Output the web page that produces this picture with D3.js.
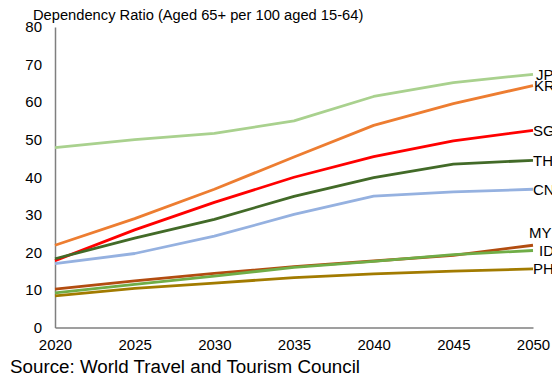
<!DOCTYPE html>
<html>
<head>
<meta charset="utf-8">
<script src="https://cdn.jsdelivr.net/npm/d3@7"></script>
<style>
  html, body { margin: 0; padding: 0; background: #fff; }
  svg { display: block; font-family: "Liberation Sans", Arial, sans-serif; }
</style>
</head>
<body>
<svg id="chart" width="552" height="378"></svg>
<script>
// Old-age dependency ratio projections, 2020-2050
const years = [2020, 2025, 2030, 2035, 2040, 2045, 2050];
const countries = ["JP", "KR", "SG", "TH", "CN", "MY", "ID", "PH"];
const jp = [47.9, 50.0, 51.7, 55.0, 61.5, 65.2, 67.4];
const kr = [21.9, 29.0, 36.8, 45.4, 53.8, 59.6, 64.4];
const sg = [17.8, 26.0, 33.3, 40.0, 45.5, 49.7, 52.5];
const th = [18.3, 23.8, 28.8, 34.9, 39.9, 43.5, 44.5];
const cn = [17.0, 19.7, 24.3, 30.1, 35.0, 36.1, 36.8];
const my = [10.2, 12.4, 14.4, 16.2, 17.7, 19.2, 21.9];
const id = [9.2, 11.5, 13.7, 16.0, 17.6, 19.4, 20.5];
const ph = [8.4, 10.4, 11.8, 13.3, 14.3, 15.0, 15.6];
const yTicks = [0, 10, 20, 30, 40, 50, 60, 70, 80];

const seriesValues = { JP: jp, KR: kr, SG: sg, TH: th, CN: cn, MY: my, ID: id, PH: ph };
const colors = {
  JP: "#a9d18e", KR: "#ed7d31", SG: "#ff0000", TH: "#426a28",
  CN: "#95b1e0", MY: "#b24c10", ID: "#70ad47", PH: "#a27b00"
};
// End-label nudges (dx, dy) so close-ending lines keep readable labels
const labelNudge = { JP: [3, 0], KR: [1, 0], SG: [0, 0], TH: [0, 0], CN: [0, 0], MY: [-4, -12], ID: [6, 0], PH: [0, 0] };

const svg = d3.select("#chart");
const x = d3.scaleLinear().domain([2020, 2050]).range([55, 533]);
const y = d3.scaleLinear().domain([0, 80]).range([327.5, 27]);

// Axes
const yAxis = d3.axisLeft(y).tickValues(yTicks).tickSize(0).tickPadding(13);
const gy = svg.append("g").attr("transform", "translate(55,0)").call(yAxis);
const xAxis = d3.axisBottom(x).tickValues(years).tickFormat(d3.format("d")).tickSize(0).tickPadding(12);
const gx = svg.append("g").attr("transform", "translate(0,327.5)").call(xAxis);
[gy, gx].forEach(g => {
  g.select(".domain").attr("stroke", "#7f7f7f").attr("stroke-width", 1.5);
  g.selectAll("text").attr("fill", "#000").style("font-size", "15px")
    .style("font-family", "'Liberation Sans', Arial, sans-serif");
});

// Lines
const line = d3.line().x((d, i) => x(years[i])).y(d => y(d));
countries.forEach(c => {
  svg.append("path")
    .datum(seriesValues[c])
    .attr("fill", "none")
    .attr("stroke", colors[c])
    .attr("stroke-width", 2.8)
    .attr("stroke-linejoin", "round")
    .attr("d", line);
});

// End labels
countries.forEach(c => {
  const v = seriesValues[c];
  const [dx, dy] = labelNudge[c];
  svg.append("text")
    .attr("x", x(2050) + dx)
    .attr("y", y(v[v.length - 1]) + dy)
    .attr("dy", "0.35em")
    .style("font-size", "15px")
    .attr("fill", "#000")
    .text(c);
});

// Title and source
svg.append("text").attr("x", 33).attr("y", 19.5).style("font-size", "14.7px").attr("fill", "#000")
  .text("Dependency Ratio (Aged 65+ per 100 aged 15-64)");
svg.append("text").attr("x", 10).attr("y", 373).style("font-size", "18.8px").attr("fill", "#000")
  .text("Source: World Travel and Tourism Council");
</script>
</body>
</html>
